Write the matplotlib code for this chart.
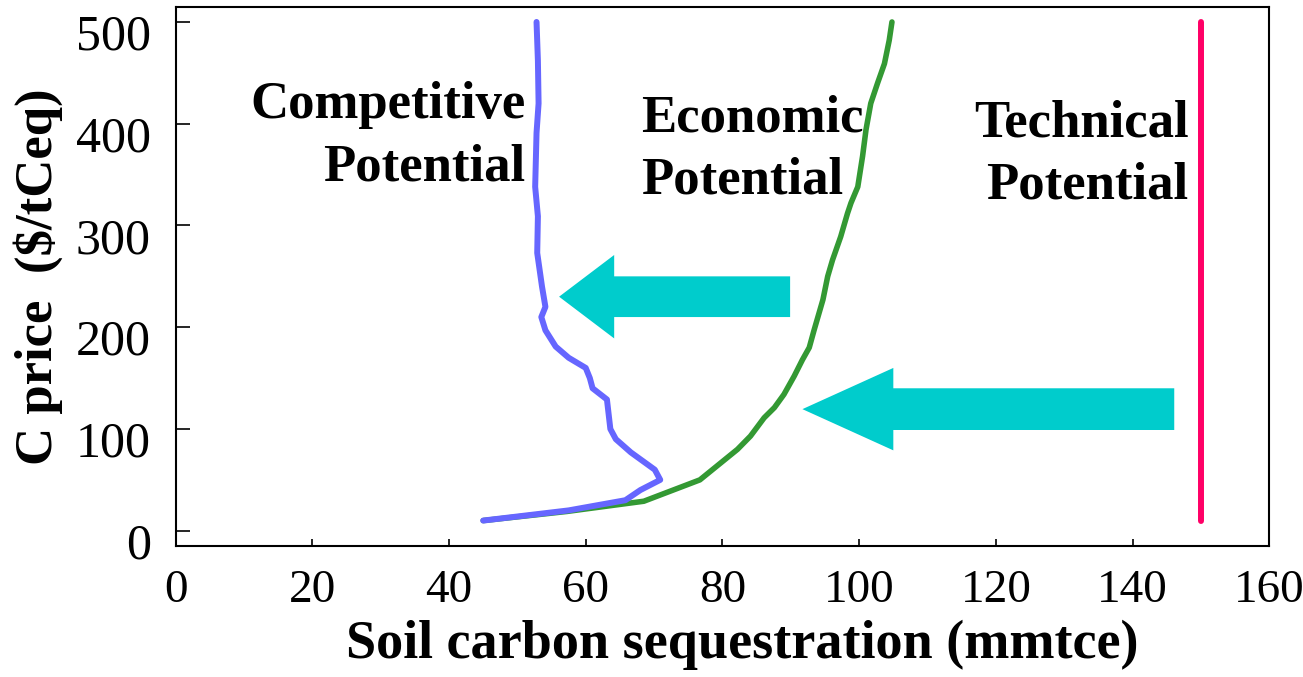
import matplotlib
matplotlib.use("Agg")
import matplotlib.pyplot as plt
from matplotlib.patches import FancyArrow
import matplotlib.transforms as mtransforms

# ---- data ----
competitive_x = [45, 57.5, 65.8, 68, 70.9, 70.1, 66.6, 64.4, 63.6, 63.1, 61, 60.6, 60,
                 57.5, 55.6, 54.1, 53.5, 54.1, 53.6, 52.9, 53, 52.6, 52.8, 53.1, 53, 52.8]
competitive_y = [10, 20, 30, 40, 50, 60, 77, 90, 100, 129, 140, 150, 160,
                 170, 181, 197, 210, 220, 240, 273, 309, 338, 391, 420, 462, 500]

economic_x = [45, 57.3, 68.5, 76.7, 82.2, 84.1, 86.1, 87.6, 89, 90.5, 91.7, 92.7, 93.4,
              94.7, 95.4, 96.1, 97.3, 98.3, 98.8, 99.8, 100.5, 101, 101.7, 102.7, 103.7, 104.4, 104.8]
economic_y = [10, 19, 29, 50, 80, 93, 111, 121, 134, 152, 168, 180, 197,
              227, 250, 266, 289, 312, 322, 338, 368, 394, 420, 440, 459, 482, 500]

technical_x = [150, 150]
technical_y = [10, 500]

x_ticks = [0, 20, 40, 60, 80, 100, 120, 140, 160]
y_ticks = [0, 100, 200, 300, 400, 500]

# arrows: (tail_x, tip_x, y)
arrow_upper = (89.9, 56.1, 230)
arrow_lower = (146.1, 91.7, 119.5)

labels = ["Competitive\nPotential", "Economic\nPotential", "Technical\nPotential"]

# ---- figure ----
plt.rcParams['font.family'] = ['Liberation Serif', 'DejaVu Serif']
fig = plt.figure(figsize=(13.03, 6.77), dpi=100)
ax = fig.add_axes([0.1348, 0.1935, 0.9741 - 0.1348, 0.9901 - 0.1935])

ax.plot(economic_x, economic_y, color='#339933', lw=4.0, solid_capstyle='round',
        solid_joinstyle='round', zorder=3)
ax.plot(competitive_x, competitive_y, color='#6666FF', lw=4.3, solid_capstyle='round',
        solid_joinstyle='round', zorder=4)
ax.plot(technical_x, technical_y, color='#FF0066', lw=4.3, solid_capstyle='round', zorder=3)

for (tail, tip, yy), hl, w, hw in [(arrow_upper, 8.06, 40, 82), (arrow_lower, 13.3, 41, 81)]:
    ar = FancyArrow(tail, yy, tip - tail, 0, width=w, head_width=hw, head_length=hl,
                    length_includes_head=True, color='#00CCCC', lw=0, zorder=2)
    ax.add_patch(ar)

ax.text(51.2, 442, labels[0], ha='right', va='top', fontsize=38, fontweight='bold',
        linespacing=1.38)
ax.text(68.05, 429, labels[1], ha='left', va='top', fontsize=38, fontweight='bold',
        linespacing=1.38)
ax.text(148.2, 424, labels[2], ha='right', va='top', fontsize=38, fontweight='bold',
        linespacing=1.38)

ax.set_xlim(0, 160)
ax.set_ylim(-15, 515)
ax.set_xticks(x_ticks)
ax.set_yticks(y_ticks)
ax.tick_params(axis='x', direction='in', length=5, width=1.2, labelsize=34, pad=17)
ax.tick_params(axis='y', direction='in', length=10, width=1.2, labelsize=36, pad=18)
for s in ax.spines.values():
    s.set_linewidth(1.5)
    s.set_color('black')

offset = mtransforms.ScaledTranslation(0, -10 / 100, fig.dpi_scale_trans)
for lbl in ax.get_yticklabels():
    lbl.set_transform(lbl.get_transform() + offset)

ax.set_xlabel("Soil carbon sequestration (mmtce)", fontsize=39, fontweight='bold')
ax.xaxis.set_label_coords(0.518, -0.137, transform=ax.transAxes)
ax.xaxis.label.set_va('top')
ax.set_ylabel("C price  ($/tCeq)", fontsize=38, fontweight='bold', labelpad=9)

fig.savefig("out.png", dpi=100)
